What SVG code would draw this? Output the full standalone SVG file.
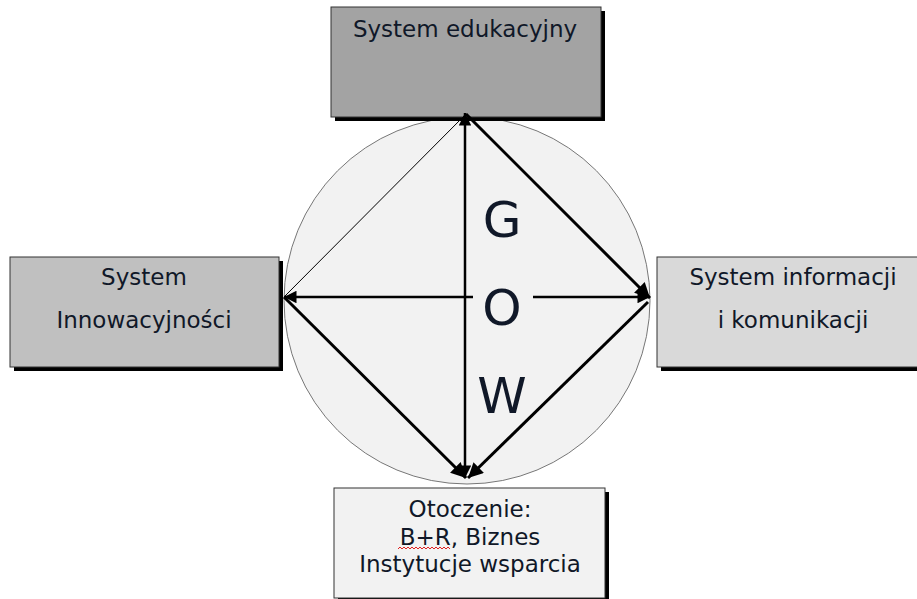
<svg xmlns="http://www.w3.org/2000/svg" width="917" height="599" viewBox="0 0 917 599">
<defs>
<style>
.box{stroke:#333;stroke-width:1}
.sh{fill:#000}
.t{font-family:"DejaVu Sans",Verdana,sans-serif;font-size:23px;fill:#101828;text-anchor:middle}
.big{font-family:"DejaVu Sans",Verdana,sans-serif;font-size:50px;fill:#101828;text-anchor:middle}
.ln{stroke:#000;fill:none}
</style>
<marker id="ah" viewBox="0 0 10 10" refX="10" refY="5" markerWidth="5.5" markerHeight="5" markerUnits="strokeWidth" orient="auto">
<path d="M0,0 L10,5 L0,10 Z" fill="#000"/>
</marker>
</defs>
<rect width="917" height="599" fill="#fff"/>
<g id="circle">
<ellipse cx="467" cy="300.5" rx="183" ry="183.5" fill="#f2f2f2" stroke="#777" stroke-width="1"/>
</g>
<g id="node-top">
<rect class="sh" x="335" y="11" width="270" height="110"/>
<rect class="box" x="331" y="7" width="270" height="110" fill="#a3a3a3"/>
<text class="t" x="465" y="37">System edukacyjny</text>
</g>
<g id="node-left">
<rect class="sh" x="14" y="261" width="269" height="110"/>
<rect class="box" x="10" y="257" width="269" height="110" fill="#c0c0c0"/>
<text class="t" x="144" y="285">System</text>
<text class="t" x="144" y="328">Innowacyjności</text>
</g>
<g id="node-right">
<rect class="sh" x="661" y="261" width="270" height="110"/>
<rect class="box" x="657" y="257" width="270" height="110" fill="#d9d9d9"/>
<text class="t" x="793" y="285">System informacji</text>
<text class="t" x="793" y="328">i komunikacji</text>
</g>
<g id="node-bottom">
<rect class="sh" x="338" y="492" width="271" height="110"/>
<rect class="box" x="334" y="488" width="271" height="110" fill="#f2f2f2"/>
<text class="t" x="470" y="517">Otoczenie:</text>
<text class="t" x="470" y="545">B+R, Biznes</text>
<text class="t" x="470" y="572">Instytucje wsparcia</text>
<path d="M398,549 l2,-2 l2,2 l2,-2 l2,2 l2,-2 l2,2 l2,-2 l2,2 l2,-2 l2,2 l2,-2 l2,2 l2,-2 l2,2 l2,-2 l2,2 l2,-2 l2,2 l2,-2 l2,2 l2,-2 l2,2 l2,-2 l2,2 l2,-2 l2,2" fill="none" stroke="#e02020" stroke-width="1"/>
</g>
<g id="letters">
<text class="big" x="502" y="237">G</text>
<text class="big" x="502" y="325">O</text>
<text class="big" x="502" y="413">W</text>
</g>
<g id="connectors">
<line class="ln" x1="466" y1="114" x2="284" y2="297" stroke="#555" stroke-width="1"/>
<line class="ln" x1="465" y1="300" x2="465" y2="113" stroke-width="2.5" marker-end="url(#ah)"/>
<line class="ln" x1="465" y1="300" x2="465" y2="478" stroke-width="2.5" marker-end="url(#ah)"/>
<line class="ln" x1="473" y1="297" x2="284" y2="297" stroke-width="2.5" marker-end="url(#ah)"/>
<line class="ln" x1="533" y1="297" x2="650" y2="297" stroke-width="2.5" marker-end="url(#ah)"/>
<line class="ln" x1="466" y1="114" x2="650" y2="298" stroke-width="3" marker-end="url(#ah)"/>
<line class="ln" x1="284" y1="297" x2="466" y2="478" stroke-width="3" marker-end="url(#ah)"/>
<line class="ln" x1="648" y1="302" x2="468" y2="478" stroke-width="3" marker-end="url(#ah)"/>
</g>
</svg>
